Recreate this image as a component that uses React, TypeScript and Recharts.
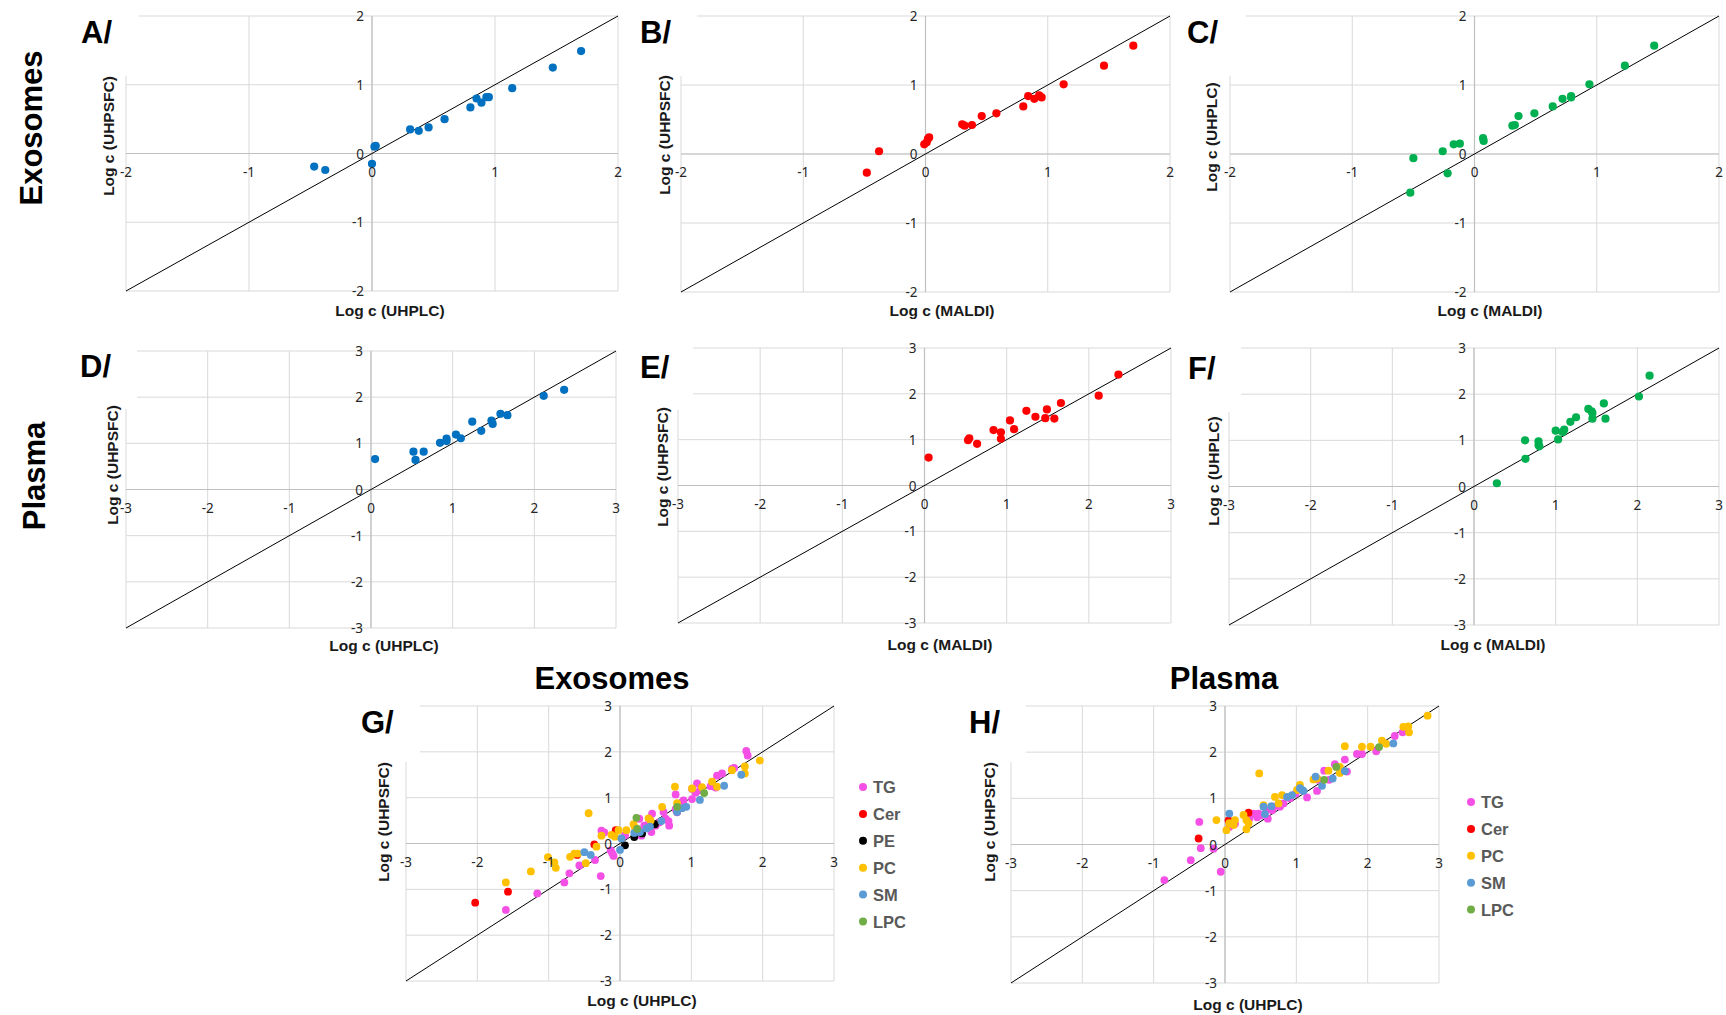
import React from "react";
import { ScatterChart, Scatter, XAxis, YAxis, CartesianGrid, ReferenceLine } from "recharts";

type Pair = [number, number];

// Axis tick values
const ticks2 = [-2, -1, 0, 1, 2];
const ticks3 = [-3, -2, -1, 0, 1, 2, 3];

// A/ Exosomes: log c UHPLC (x) vs UHPSFC (y)
const exoLcSfc: Pair[] = [
  [-0.47, -0.19], [-0.38, -0.24], [0.0, -0.15], [0.02, 0.1], [0.03, 0.11], [0.31, 0.35],
  [0.38, 0.33], [0.46, 0.38], [0.59, 0.5], [0.8, 0.67], [0.85, 0.8], [0.89, 0.74],
  [0.93, 0.82], [0.95, 0.82], [1.14, 0.95], [1.47, 1.25], [1.7, 1.49],
];
// B/ Exosomes: MALDI vs UHPSFC
const exoMaldiSfc: Pair[] = [
  [-0.48, -0.27], [-0.38, 0.04], [-0.01, 0.14], [0.01, 0.17], [0.02, 0.22], [0.03, 0.24],
  [0.3, 0.43], [0.32, 0.41], [0.38, 0.42], [0.46, 0.55], [0.58, 0.59], [0.8, 0.69],
  [0.84, 0.84], [0.89, 0.8], [0.93, 0.85], [0.95, 0.82], [1.13, 1.01], [1.46, 1.28], [1.7, 1.57],
];
// C/ Exosomes: MALDI vs UHPLC
const exoMaldiLc: Pair[] = [
  [-0.525, -0.56], [-0.5, -0.06], [-0.26, 0.04], [-0.22, -0.28], [-0.17, 0.14], [-0.12, 0.15],
  [0.07, 0.23], [0.075, 0.19], [0.31, 0.41], [0.33, 0.42], [0.36, 0.55], [0.49, 0.59],
  [0.64, 0.69], [0.72, 0.8], [0.79, 0.84], [0.79, 0.82], [0.94, 1.01], [1.23, 1.28], [1.47, 1.57],
];
// D/ Plasma: UHPLC vs UHPSFC
const plasmaLcSfc: Pair[] = [
  [0.05, 0.66], [0.52, 0.82], [0.545, 0.64], [0.645, 0.82], [0.845, 1.01], [0.925, 1.1],
  [0.925, 1.05], [1.04, 1.19], [1.1, 1.11], [1.24, 1.47], [1.35, 1.27], [1.475, 1.49],
  [1.49, 1.42], [1.585, 1.64], [1.67, 1.61], [2.115, 2.03], [2.365, 2.16],
];
// E/ Plasma: MALDI vs UHPSFC
const plasmaMaldiSfc: Pair[] = [
  [0.05, 0.61], [0.53, 0.99], [0.545, 1.03], [0.64, 0.91], [0.84, 1.21], [0.93, 1.16],
  [0.93, 1.02], [1.04, 1.42], [1.09, 1.23], [1.24, 1.63], [1.35, 1.5], [1.47, 1.47],
  [1.49, 1.66], [1.58, 1.46], [1.66, 1.8], [2.12, 1.96], [2.36, 2.42],
];
// F/ Plasma: MALDI vs UHPLC
const plasmaMaldiLc: Pair[] = [
  [0.28, 0.07], [0.63, 0.6], [0.625, 1.0], [0.79, 0.98], [0.79, 0.9], [0.8, 0.87],
  [1.0, 1.21], [1.03, 1.02], [1.085, 1.18], [1.105, 1.23], [1.18, 1.4], [1.25, 1.5],
  [1.4, 1.68], [1.44, 1.63], [1.45, 1.59], [1.45, 1.47], [1.59, 1.8], [1.61, 1.47],
  [2.02, 1.95], [2.15, 2.4],
];

// G/ Exosomes by lipid class: UHPLC vs UHPSFC
const exoTG: Pair[] = [
  [-1.6, -1.45], [-1.16, -1.09], [-0.78, -0.85], [-0.71, -0.65], [-0.57, -0.48], [-0.35, -0.36],
  [-0.27, -0.71], [-0.26, 0.28], [-0.22, 0.24], [-0.13, -0.15], [-0.11, -0.21], [-0.09, -0.27],
  [0.07, 0.18], [0.24, 0.32], [0.3, 0.17], [0.27, 0.54], [0.34, 0.39], [0.41, 0.46],
  [0.44, 0.25], [0.45, 0.65], [0.5, 0.39], [0.55, 0.46], [0.61, 0.69], [0.64, 0.54],
  [0.68, 0.49], [0.69, 0.39], [0.78, 0.75], [0.78, 1.07], [0.8, 0.68], [0.87, 0.9],
  [0.89, 0.94], [1.01, 0.97], [1.01, 1.19], [1.06, 1.11], [1.08, 1.31], [1.12, 1.16],
  [1.27, 1.25], [1.34, 1.22], [1.36, 1.48], [1.43, 1.53], [1.57, 1.63], [1.6, 1.65],
  [1.77, 2.02], [1.79, 1.92],
];
const exoCer: Pair[] = [[-2.03, -1.29], [-1.57, -1.05], [-0.6, -0.25], [-0.36, -0.02], [-0.06, 0.29]];
const exoPE: Pair[] = [[0.07, -0.04], [0.2, 0.14], [0.31, 0.22], [0.49, 0.42]];
const exoPC: Pair[] = [
  [-1.6, -0.85], [-1.25, -0.61], [-1.01, -0.3], [-0.92, -0.41], [-0.9, -0.53], [-0.7, -0.29],
  [-0.64, -0.22], [-0.59, -0.22], [-0.48, -0.43], [-0.44, 0.66], [-0.33, -0.07], [-0.26, 0.17],
  [-0.12, 0.19], [-0.07, 0.15], [-0.02, 0.29], [0.09, 0.29], [0.19, 0.42], [0.21, 0.35],
  [0.4, 0.55], [0.43, 0.5], [0.59, 0.8], [0.77, 1.24], [0.8, 0.88], [1.01, 1.2],
  [1.15, 1.23], [1.29, 1.35], [1.36, 1.24], [1.57, 1.6], [1.75, 1.53], [1.75, 1.68], [1.96, 1.81],
];
const exoSM: Pair[] = [
  [-0.5, -0.19], [-0.41, -0.25], [0.0, -0.14], [0.02, 0.11], [0.2, 0.23], [0.28, 0.25],
  [0.37, 0.33], [0.42, 0.37], [0.58, 0.49], [0.8, 0.69], [0.87, 0.77], [0.93, 0.8],
  [1.12, 0.95], [1.46, 1.26], [1.7, 1.5],
];
const exoLPC: Pair[] = [[0.23, 0.56], [0.24, 0.32], [0.8, 0.8], [1.18, 1.1]];

// H/ Plasma by lipid class: UHPLC vs UHPSFC
const plasmaTG: Pair[] = [
  [-0.85, -0.77], [-0.48, -0.34], [-0.36, 0.49], [-0.34, -0.08], [-0.16, -0.09], [-0.06, -0.59],
  [0.06, 0.38], [0.14, 0.45], [0.34, 0.56], [0.4, 0.67], [0.45, 0.59], [0.47, 0.67],
  [0.5, 0.63], [0.58, 0.75], [0.6, 0.56], [0.66, 0.74], [0.68, 0.82], [0.77, 0.82],
  [0.82, 0.89], [0.91, 1.0], [0.99, 1.1], [1.15, 1.02], [1.29, 1.16], [1.31, 1.4],
  [1.39, 1.6], [1.46, 1.4], [1.54, 1.74], [1.68, 1.84], [1.71, 1.58], [1.85, 1.96],
  [1.92, 1.96], [2.12, 2.02], [2.38, 2.35], [2.49, 2.43],
];
const plasmaCer: Pair[] = [[-0.37, 0.13], [0.05, 0.52], [0.33, 0.69]];
const plasmaPC: Pair[] = [
  [-0.12, 0.53], [0.02, 0.31], [0.06, 0.46], [0.12, 0.42], [0.14, 0.53], [0.26, 0.64],
  [0.3, 0.53], [0.33, 0.46], [0.3, 0.33], [0.48, 1.54], [0.54, 0.85], [0.7, 1.03],
  [0.75, 0.89], [0.8, 1.07], [1.01, 1.18], [1.05, 1.29], [1.24, 1.41], [1.29, 1.43],
  [1.45, 1.6], [1.61, 1.55], [1.61, 1.68], [1.68, 2.13], [1.92, 2.12], [2.04, 2.12],
  [2.2, 2.25], [2.26, 2.18], [2.5, 2.55], [2.57, 2.56], [2.58, 2.43], [2.84, 2.79],
];
const plasmaSM: Pair[] = [
  [0.06, 0.67], [0.54, 0.82], [0.56, 0.66], [0.65, 0.83], [0.87, 1.03], [0.94, 1.07],
  [1.05, 1.22], [1.08, 1.18], [1.1, 1.16], [1.27, 1.47], [1.36, 1.27], [1.51, 1.43],
  [1.68, 1.59], [2.36, 2.19],
];
const plasmaLPC: Pair[] = [[1.39, 1.4], [1.56, 1.68], [2.16, 2.11]];

const BLUE = "#0070c0";
const RED = "#ff0000";
const GREEN = "#00b050";
const CLASS_COLORS: Record<string, string> = {
  TG: "#f550e6",
  Cer: "#ff0000",
  PE: "#000000",
  PC: "#ffc000",
  SM: "#5b9bd5",
  LPC: "#70ad47",
};

interface Series {
  name: string;
  color: string;
  data: Pair[];
}
interface PanelSpec {
  id: string;
  left: number;
  top: number;
  w: number;
  h: number;
  lim: number;
  ticks: number[];
  r: number;
  series: Series[];
}

const exoClasses: Series[] = [
  { name: "TG", color: CLASS_COLORS.TG, data: exoTG },
  { name: "Cer", color: CLASS_COLORS.Cer, data: exoCer },
  { name: "PE", color: CLASS_COLORS.PE, data: exoPE },
  { name: "PC", color: CLASS_COLORS.PC, data: exoPC },
  { name: "SM", color: CLASS_COLORS.SM, data: exoSM },
  { name: "LPC", color: CLASS_COLORS.LPC, data: exoLPC },
];
const plasmaClasses: Series[] = [
  { name: "TG", color: CLASS_COLORS.TG, data: plasmaTG },
  { name: "Cer", color: CLASS_COLORS.Cer, data: plasmaCer },
  { name: "PC", color: CLASS_COLORS.PC, data: plasmaPC },
  { name: "SM", color: CLASS_COLORS.SM, data: plasmaSM },
  { name: "LPC", color: CLASS_COLORS.LPC, data: plasmaLPC },
];

const panels: PanelSpec[] = [
  { id: "A", left: 126, top: 16, w: 492, h: 275, lim: 2, ticks: ticks2, r: 4.1, series: [{ name: "A", color: BLUE, data: exoLcSfc }] },
  { id: "B", left: 681, top: 16, w: 489, h: 276, lim: 2, ticks: ticks2, r: 4.1, series: [{ name: "B", color: RED, data: exoMaldiSfc }] },
  { id: "C", left: 1230, top: 16, w: 489, h: 276, lim: 2, ticks: ticks2, r: 4.1, series: [{ name: "C", color: GREEN, data: exoMaldiLc }] },
  { id: "D", left: 126, top: 351, w: 490, h: 277, lim: 3, ticks: ticks3, r: 4.1, series: [{ name: "D", color: BLUE, data: plasmaLcSfc }] },
  { id: "E", left: 678, top: 348, w: 493, h: 275, lim: 3, ticks: ticks3, r: 4.1, series: [{ name: "E", color: RED, data: plasmaMaldiSfc }] },
  { id: "F", left: 1229, top: 348, w: 490, h: 277, lim: 3, ticks: ticks3, r: 4.1, series: [{ name: "F", color: GREEN, data: plasmaMaldiLc }] },
  { id: "G", left: 406, top: 706, w: 428, h: 275, lim: 3, ticks: ticks3, r: 3.9, series: exoClasses },
  { id: "H", left: 1011, top: 706, w: 428, h: 277, lim: 3, ticks: ticks3, r: 3.9, series: plasmaClasses },
];

// Outer spacing around each plot area (axes take 1px each, hence the 15/29 margins)
const PAD = { top: 12, right: 16, bottom: 30, left: 16 };
const M = { top: PAD.top, right: PAD.right, bottom: PAD.bottom - 1, left: PAD.left - 1 };
const BOLD = "'Liberation Sans', Arial, Helvetica, sans-serif";
const TICK_FONT = "'Noto Sans', 'Open Sans', sans-serif";

const toPts = (a: Pair[]) => a.map(([x, y]) => ({ x, y }));

function Panel({ spec }: { spec: PanelSpec }) {
  const { left, top, w, h, lim, ticks, series, r } = spec;
  const width = w + PAD.left + PAD.right;
  const height = h + PAD.top + PAD.bottom;
  const zeroY = PAD.top + h / 2;
  const zeroX = PAD.left + w / 2;
  const tickStyle = { fontFamily: TICK_FONT, fontSize: 13.5, fill: "#262626" };
  return (
    <div style={{ position: "absolute", left: left - PAD.left, top: top - PAD.top, width, height, zIndex: 1 }}>
      <ScatterChart width={width} height={height} margin={M}>
        <CartesianGrid stroke="#d9d9d9" strokeWidth={1} />
        <XAxis
          type="number"
          dataKey="x"
          domain={[-lim, lim]}
          ticks={ticks}
          interval={0}
          height={1}
          axisLine={false}
          tickLine={false}
          tick={(p: any) => (
            <text x={p.x} y={zeroY + 18} textAnchor="middle" dominantBaseline="central" style={tickStyle}>
              {p.payload.value}
            </text>
          )}
        />
        <YAxis
          type="number"
          dataKey="y"
          domain={[-lim, lim]}
          ticks={ticks}
          interval={0}
          width={1}
          axisLine={false}
          tickLine={false}
          tick={(p: any) => (
            <text x={zeroX - 8} y={p.y} textAnchor="end" dominantBaseline="central" style={tickStyle}>
              {p.payload.value}
            </text>
          )}
        />
        <ReferenceLine x={0} stroke="#bfbfbf" strokeWidth={1.2} />
        <ReferenceLine y={0} stroke="#bfbfbf" strokeWidth={1.2} />
        {series.map((s) => (
          <Scatter
            key={s.name}
            name={s.name}
            data={toPts(s.data)}
            fill={s.color}
            isAnimationActive={false}
            shape={(p: any) => <circle cx={p.cx} cy={p.cy} r={r} fill={s.color} />}
          />
        ))}
        <ReferenceLine
          segment={[{ x: -lim, y: -lim }, { x: lim, y: lim }]}
          stroke="#000"
          strokeWidth={1}
        />
      </ScatterChart>
    </div>
  );
}

// White boxes behind the panel letters
const masks = [
  { x: 78, y: 0, w: 61, h: 76 },
  { x: 636, y: 0, w: 61, h: 76 },
  { x: 1183, y: 0, w: 63, h: 76 },
  { x: 76, y: 345, w: 61, h: 64 },
  { x: 636, y: 342, w: 57, h: 68 },
  { x: 1184, y: 342, w: 57, h: 70 },
  { x: 357, y: 700, w: 63, h: 62 },
  { x: 964, y: 700, w: 62, h: 62 },
];

const letters = [
  { t: "A/", x: 81, y: 43 },
  { t: "B/", x: 640, y: 43 },
  { t: "C/", x: 1187, y: 43 },
  { t: "D/", x: 80, y: 377 },
  { t: "E/", x: 640, y: 378 },
  { t: "F/", x: 1188, y: 379 },
  { t: "G/", x: 361, y: 733 },
  { t: "H/", x: 969, y: 733 },
];

const xTitles = [
  { t: "Log c (UHPLC)", x: 390, y: 311 },
  { t: "Log c (MALDI)", x: 942, y: 311 },
  { t: "Log c (MALDI)", x: 1490, y: 311 },
  { t: "Log c (UHPLC)", x: 384, y: 646 },
  { t: "Log c (MALDI)", x: 940, y: 645 },
  { t: "Log c (MALDI)", x: 1493, y: 645 },
  { t: "Log c (UHPLC)", x: 642, y: 1001 },
  { t: "Log c (UHPLC)", x: 1248, y: 1005 },
];

const yTitles = [
  { t: "Log c (UHPSFC)", x: 109, y: 136 },
  { t: "Log c (UHPSFC)", x: 665, y: 135 },
  { t: "Log c (UHPLC)", x: 1212, y: 137 },
  { t: "Log c (UHPSFC)", x: 113, y: 465 },
  { t: "Log c (UHPSFC)", x: 663, y: 467 },
  { t: "Log c (UHPLC)", x: 1214, y: 471 },
  { t: "Log c (UHPSFC)", x: 384, y: 822 },
  { t: "Log c (UHPSFC)", x: 990, y: 822 },
];

const legends = [
  { series: exoClasses, x: 863, y0: 787, step: 26.9 },
  { series: plasmaClasses, x: 1471, y0: 802, step: 26.9 },
];

export default function App() {
  return (
    <div style={{ position: "absolute", left: 0, top: 0, width: 1726, height: 1015, background: "#fff", overflow: "hidden" }}>
      {panels.map((p) => (
        <Panel key={p.id} spec={p} />
      ))}
      <svg
        width={1726}
        height={1015}
        style={{ position: "absolute", left: 0, top: 0, zIndex: 2, pointerEvents: "none" }}
      >
        {masks.map((m, i) => (
          <rect key={i} x={m.x} y={m.y} width={m.w} height={m.h} fill="#fff" />
        ))}
        {letters.map((l) => (
          <text key={l.t} x={l.x} y={l.y} fontFamily={BOLD} fontWeight="bold" fontSize={31} fill="#000">
            {l.t}
          </text>
        ))}
        <text x={41.5} y={128} transform="rotate(-90 41.5 128)" textAnchor="middle" fontFamily={BOLD} fontWeight="bold" fontSize={31}>
          Exosomes
        </text>
        <text x={45} y={476} transform="rotate(-90 45 476)" textAnchor="middle" fontFamily={BOLD} fontWeight="bold" fontSize={31}>
          Plasma
        </text>
        <text x={612} y={689} textAnchor="middle" fontFamily={BOLD} fontWeight="bold" fontSize={31}>
          Exosomes
        </text>
        <text x={1224} y={689} textAnchor="middle" fontFamily={BOLD} fontWeight="bold" fontSize={31}>
          Plasma
        </text>
        {xTitles.map((t, i) => (
          <text key={i} x={t.x} y={t.y + 5.4} textAnchor="middle" fontFamily={BOLD} fontWeight="bold" fontSize={15.5} fill="#1a1a1a">
            {t.t}
          </text>
        ))}
        {yTitles.map((t, i) => (
          <text
            key={i}
            x={t.x + 5.4}
            y={t.y}
            transform={`rotate(-90 ${t.x + 5.4} ${t.y})`}
            textAnchor="middle"
            fontFamily={BOLD}
            fontWeight="bold"
            fontSize={15.5}
            fill="#1a1a1a"
          >
            {t.t}
          </text>
        ))}
        {legends.map((lg, li) =>
          lg.series.map((s, i) => (
            <g key={`${li}-${s.name}`}>
              <circle cx={lg.x} cy={lg.y0 + i * lg.step} r={4} fill={s.color} />
              <text x={lg.x + 10} y={lg.y0 + i * lg.step + 6} fontFamily={BOLD} fontWeight="bold" fontSize={16.5} fill="#595959">
                {s.name}
              </text>
            </g>
          ))
        )}
      </svg>
    </div>
  );
}
